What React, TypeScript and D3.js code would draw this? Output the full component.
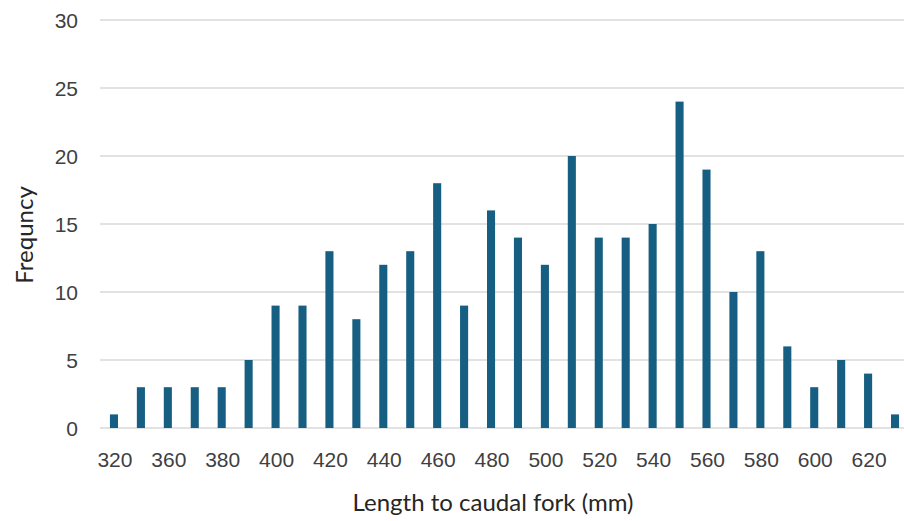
import React, { useEffect, useRef } from 'react';
import * as d3 from 'd3';

// length bins (mm); only every other bin is labelled on the axis
const bins = ['320', '340', '360', '370', '380', '390', '400', '410', '420', '430', '440', '450', '460', '470', '480', '490', '500', '510', '520', '530', '540', '550', '560', '570', '580', '590', '600', '610', '620', '630'];
const counts = [1, 3, 3, 3, 3, 5, 9, 9, 13, 8, 12, 13, 18, 9, 16, 14, 12, 20, 14, 14, 15, 24, 19, 10, 13, 6, 3, 5, 4, 1];
const yTicks = [0, 5, 10, 15, 20, 25, 30];

const App = () => {
    const svgRef = useRef<SVGSVGElement>(null);

    useEffect(() => {
        if (!svgRef.current) return;
        const width = 904;
        const height = 521;
        const svg = d3.select(svgRef.current);
        svg.selectAll('*').remove();

        const x = d3.scaleBand().domain(bins).range([100.5, 908.5]).paddingInner(0.7).paddingOuter(0.35);
        const y = d3.scaleLinear().domain([0, 30]).range([428, 20]);

        // grid
        svg.append('g')
            .selectAll('line')
            .data(yTicks)
            .enter()
            .append('line')
            .attr('x1', 100)
            .attr('x2', width)
            .attr('y1', d => y(d))
            .attr('y2', d => y(d))
            .attr('stroke', '#d9d9d9')
            .attr('stroke-width', 1.3);

        // y labels
        svg.append('g')
            .selectAll('text')
            .data(yTicks)
            .enter()
            .append('text')
            .attr('x', 78)
            .attr('y', d => y(d) + 7.5)
            .attr('text-anchor', 'end')
            .attr('fill', '#404040')
            .attr('font-family', 'Liberation Sans, Arial, sans-serif')
            .attr('font-size', '21px')
            .text(d => d);

        // bars
        svg.append('g')
            .selectAll('rect')
            .data(counts)
            .enter()
            .append('rect')
            .attr('x', (d, i) => x(bins[i])!)
            .attr('width', x.bandwidth())
            .attr('y', d => y(d))
            .attr('height', d => y(0) - y(d))
            .attr('fill', '#175F82');

        // x labels, every other bin
        svg.append('g')
            .selectAll('text')
            .data(bins.filter((b, i) => i % 2 === 0))
            .enter()
            .append('text')
            .attr('x', d => x(d)! + x.bandwidth() / 2 + 1)
            .attr('y', 467)
            .attr('text-anchor', 'middle')
            .attr('fill', '#404040')
            .attr('font-family', 'Liberation Sans, Arial, sans-serif')
            .attr('font-size', '21px')
            .text(d => d);

        // axis titles
        svg.append('text')
            .attr('x', 493)
            .attr('y', 511)
            .attr('text-anchor', 'middle')
            .attr('fill', '#262626')
            .attr('font-family', 'Lato, Noto Sans, sans-serif')
            .attr('font-size', '24px')
            .text('Length to caudal fork (mm)');

        svg.append('text')
            .attr('transform', 'translate(33,235) rotate(-90)')
            .attr('text-anchor', 'middle')
            .attr('fill', '#262626')
            .attr('font-family', 'Lato, Noto Sans, sans-serif')
            .attr('font-size', '24px')
            .text('Frequncy');

        svg.attr('width', width).attr('height', height);
    }, []);

    return <svg ref={svgRef} style={{ position: 'absolute', left: 0, top: 0, background: '#fff' }} />;
};

export default App;
